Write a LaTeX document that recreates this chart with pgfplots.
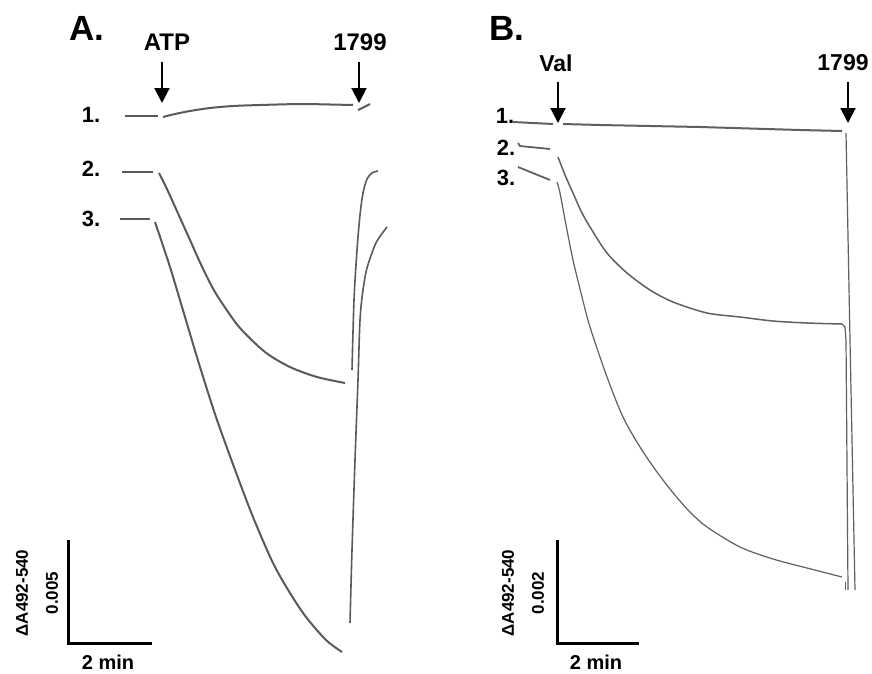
\documentclass[border=0pt]{standalone}
\usepackage{pgfplots}
\pgfplotsset{compat=1.18}
\usepackage{fontspec}
\setmainfont{Liberation Sans}
\usetikzlibrary{arrows.meta}
\definecolor{trace}{HTML}{5A5A5A}
\definecolor{traceB}{HTML}{606060}
\begin{document}
\begin{tikzpicture}
\begin{axis}[width=872pt,height=673pt,scale only axis,
  xmin=0,xmax=872,ymin=0,ymax=673,y dir=reverse,hide axis,clip=false]
\path (rel axis cs:0,0) rectangle (rel axis cs:1,1);
% ---------- Panel A ----------
% trace 1
\addplot[trace,line width=2pt] coordinates {(125,116) (158,116)};
\addplot[trace,line width=2pt,smooth] coordinates {(163,117) (175,114) (190,111) (210,108) (233,106) (260,105) (300,104) (330,104.5) (353,105)};
\addplot[trace,line width=2pt] coordinates {(358,110) (370,104)};
% trace 2
\addplot[trace,line width=2pt] coordinates {(122,172) (153,172)};
\addplot[trace,line width=2pt,smooth] coordinates {(159,173) (166,187) (172,200) (181,220) (190,240) (198,258) (207,277) (215,292) (224,306) (240,328) (265,352) (290,367) (317,377) (345,383)};
\addplot[trace,line width=1.6pt,smooth] coordinates {(352,370) (354,300) (357,250) (360,215) (363,193) (367,179) (372,173) (378,171)};
% trace 3
\addplot[trace,line width=2pt] coordinates {(120,219) (150,219)};
\addplot[trace,line width=2pt,smooth] coordinates {(155,222) (170,267) (185,317) (200,367) (216,417) (234,467) (253,517) (273,563) (290,593) (306,617) (326,640) (342,652)};
\addplot[trace,line width=1.6pt,smooth] coordinates {(350,623) (352,550) (355,460) (358,380) (360,320) (363,290) (367,268) (375,245) (381,235) (387,227)};
% scale bar A
\addplot[black,line width=3pt] coordinates {(68,540) (68,643) (152,643)};
% ---------- Panel B ----------
% trace 1
\addplot[traceB,line width=2pt] coordinates {(513,122) (553,124)};
\addplot[traceB,line width=2pt] coordinates {(563,124) (600,125) (700,127) (800,130) (842,131)};
\addplot[traceB,line width=1.2pt] coordinates {(846,133) (850,340) (855,590)};
% trace 2
\addplot[traceB,line width=1.8pt] coordinates {(518,143) (520,146) (550,149)};
\addplot[traceB,line width=1.5pt,smooth] coordinates {(558,157) (565,175) (573,193) (581,211) (590,227) (607,253) (627,273) (650,290) (673,302) (707,313) (740,317) (773,321) (807,323) (842,324)};
\addplot[traceB,line width=1.2pt] coordinates {(842,324) (845,327) (846,340) (848,590)};
% trace 3
\addplot[traceB,line width=1.8pt] coordinates {(518,167) (550,180)};
\addplot[traceB,line width=1.2pt,smooth] coordinates {(557,182) (560,193) (566,225) (573,260) (581,293) (590,327) (607,377) (623,417) (640,447) (657,472) (674,494) (690,512) (707,527) (740,547) (773,559) (807,568) (842,577)};
\addplot[traceB,line width=1pt] coordinates {(845,582) (845,590)};
% scale bar B
\addplot[black,line width=3pt] coordinates {(557,540) (557,643) (639,643)};
% ---------- annotations ----------
\draw[black,line width=2pt,-{Triangle[width=15pt,length=15pt]}] (axis cs:162,62) -- (axis cs:162,103);
\draw[black,line width=2pt,-{Triangle[width=15pt,length=15pt]}] (axis cs:359,62) -- (axis cs:359,103);
\draw[black,line width=2pt,-{Triangle[width=15pt,length=15pt]}] (axis cs:558,82) -- (axis cs:558,123);
\draw[black,line width=2pt,-{Triangle[width=15pt,length=15pt]}] (axis cs:848,82) -- (axis cs:848,123);
\node[font=\fontsize{35}{40}\selectfont\bfseries,inner sep=0] at (axis cs:87,28) {A.};
\node[font=\fontsize{35}{40}\selectfont\bfseries,inner sep=0] at (axis cs:507,28) {B.};
\node[font=\fontsize{24}{28}\selectfont\bfseries,inner sep=0] at (axis cs:167,42) {ATP};
\node[font=\fontsize{24}{28}\selectfont\bfseries,inner sep=0] at (axis cs:360,42) {1799};
\node[font=\fontsize{23}{27}\selectfont\bfseries,inner sep=0] at (axis cs:556,63) {Val};
\node[font=\fontsize{23}{27}\selectfont\bfseries,inner sep=0] at (axis cs:843,63) {1799};
\node[font=\fontsize{22}{26}\selectfont\bfseries,inner sep=0] at (axis cs:91,115) {1.};
\node[font=\fontsize{22}{26}\selectfont\bfseries,inner sep=0] at (axis cs:91,169) {2.};
\node[font=\fontsize{22}{26}\selectfont\bfseries,inner sep=0] at (axis cs:91,219) {3.};
\node[font=\fontsize{22}{26}\selectfont\bfseries,inner sep=0] at (axis cs:505,116) {1.};
\node[font=\fontsize{22}{26}\selectfont\bfseries,inner sep=0] at (axis cs:506,148) {2.};
\node[font=\fontsize{22}{26}\selectfont\bfseries,inner sep=0] at (axis cs:506,178) {3.};
\node[font=\fontsize{20}{24}\selectfont\bfseries,inner sep=0] at (axis cs:108,662) {2 min};
\node[font=\fontsize{20}{24}\selectfont\bfseries,inner sep=0] at (axis cs:596,662) {2 min};
\node[font=\fontsize{17}{20}\selectfont\bfseries,inner sep=0,rotate=90] at (axis cs:22,593) {ΔA492-540};
\node[font=\fontsize{17}{20}\selectfont\bfseries,inner sep=0,rotate=90] at (axis cs:52,593) {0.005};
\node[font=\fontsize{17}{20}\selectfont\bfseries,inner sep=0,rotate=90] at (axis cs:508,593) {ΔA492-540};
\node[font=\fontsize{17}{20}\selectfont\bfseries,inner sep=0,rotate=90] at (axis cs:538,593) {0.002};
\end{axis}
\end{tikzpicture}
\end{document}
